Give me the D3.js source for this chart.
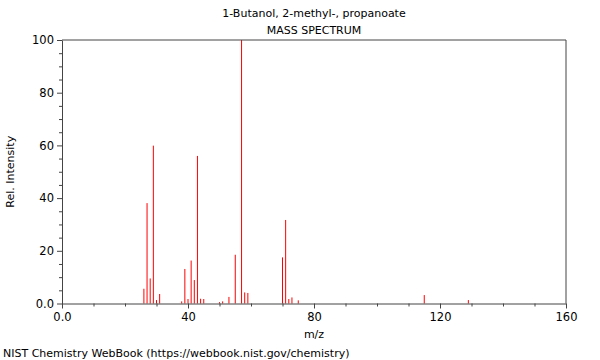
<!DOCTYPE html>
<html><head><meta charset="utf-8">
<script src="https://cdn.jsdelivr.net/npm/d3@7"></script>
<style>body{margin:0;background:#fff}svg{display:block}text{font-family:"DejaVu Sans",sans-serif;fill:#000}</style>
</head><body><svg id="c" width="600" height="360"></svg>
<script>
const mz = [26,27,28,29,30,31,38,39,40,41,42,43,44,45,50,51,53,55,57,58,59,70,71,72,73,75,115,129];
const intensity = [5.6,38.1,9.5,59.9,1.3,3.6,0.8,13.1,1.7,16.3,8.9,56.0,1.8,1.7,0.5,0.8,2.5,18.5,100,4.2,4.0,17.5,31.7,1.7,2.3,1.2,3.2,1.3];
const xTicks = [0,40,80,120,160];
const yTicks = [0,20,40,60,80,100];
const title = "1-Butanol, 2-methyl-, propanoate";
const subtitle = "MASS SPECTRUM";
const xLabel = "m/z";
const yLabel = "Rel. Intensity";
const footer = "NIST Chemistry WebBook (https://webbook.nist.gov/chemistry)";

const svg = d3.select("#c");
const L=62, R=566, T=40, B=303.5;
const x = d3.scaleLinear().domain([0,160]).range([L,R]);
const y = d3.scaleLinear().domain([0,100]).range([B,T]);
const axisCol = "#444";

// peaks
svg.append("g").selectAll("line").data(mz).join("line")
  .attr("x1",(d)=>x(d)).attr("x2",(d)=>x(d))
  .attr("y1",y(0)).attr("y2",(d,i)=>y(intensity[i]))
  .attr("stroke","#f00").attr("stroke-width",1);

// frame
svg.append("path").attr("d",`M${L},${T}H${R}V${B}`).attr("fill","none").attr("stroke",axisCol);

// minor ticks
const xMinor = d3.range(0,161,10).filter(v=>v%40!==0);
const yMinor = d3.range(0,101,5).filter(v=>v%20!==0);
svg.append("g").attr("transform",`translate(0,${B})`)
  .call(d3.axisBottom(x).tickValues(xMinor).tickSize(3).tickFormat(""))
  .call(g=>{g.select(".domain").remove();g.selectAll("line").attr("stroke",axisCol);});
svg.append("g").attr("transform",`translate(${L},0)`)
  .call(d3.axisLeft(y).tickValues(yMinor).tickSize(3).tickFormat(""))
  .call(g=>{g.select(".domain").remove();g.selectAll("line").attr("stroke",axisCol);});

// major axes
svg.append("g").attr("transform",`translate(0,${B})`)
  .call(d3.axisBottom(x).tickValues(xTicks).tickSize(5).tickSizeOuter(0).tickPadding(4)
    .tickFormat(d=>d===0?"0.0":d))
  .call(g=>{g.select(".domain").attr("stroke",axisCol);g.selectAll("line").attr("stroke",axisCol);
    g.selectAll("text").attr("font-size",11.5).attr("fill","#000").attr("font-family","DejaVu Sans");});
svg.append("g").attr("transform",`translate(${L},0)`)
  .call(d3.axisLeft(y).tickValues(yTicks).tickSize(5).tickSizeOuter(0).tickPadding(3)
    .tickFormat(d=>d===0?"0.0":d))
  .call(g=>{g.select(".domain").attr("stroke",axisCol);g.selectAll("line").attr("stroke",axisCol);
    g.selectAll("text").attr("font-size",11.5).attr("fill","#000").attr("font-family","DejaVu Sans");});

const cx=(L+R)/2;
svg.append("text").attr("x",cx).attr("y",17).attr("text-anchor","middle").attr("font-size",11).text(title);
svg.append("text").attr("x",cx).attr("y",34).attr("text-anchor","middle").attr("font-size",11).text(subtitle);
svg.append("text").attr("x",cx).attr("y",338).attr("text-anchor","middle").attr("font-size",11).text(xLabel);
svg.append("text").attr("transform",`translate(14,${(T+B)/2}) rotate(-90)`).attr("text-anchor","middle").attr("font-size",11).text(yLabel);
svg.append("text").attr("x",3).attr("y",357).attr("font-size",11).text(footer);
</script></body></html>
